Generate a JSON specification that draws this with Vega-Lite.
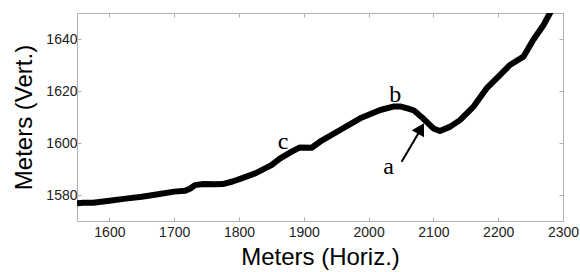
{
  "$schema": "https://vega.github.io/schema/vega-lite/v6.json",
  "autosize": {"type": "none"},
  "padding": {"left": 77, "top": 13, "right": 17, "bottom": 51},
  "width": 486,
  "height": 208,
  "background": "white",
  "config": {
    "view": {"stroke": null},
    "axis": {
      "labelFont": "Liberation Sans",
      "titleFont": "Liberation Sans",
      "labelFontSize": 14,
      "titleFontSize": 24,
      "titleFontWeight": "normal",
      "labelColor": "#222",
      "titleColor": "#000",
      "domainColor": "#b0b0b0",
      "tickColor": "#b0b0b0",
      "grid": false,
      "format": "d"
    }
  },
  "datasets": {
    "profile": [
      {"h": 1550, "v": 1576.8}, {"h": 1560, "v": 1577.0}, {"h": 1575, "v": 1577.0},
      {"h": 1600, "v": 1577.8}, {"h": 1625, "v": 1578.6}, {"h": 1650, "v": 1579.3},
      {"h": 1675, "v": 1580.3}, {"h": 1700, "v": 1581.3}, {"h": 1717, "v": 1581.6},
      {"h": 1725, "v": 1582.5}, {"h": 1732, "v": 1583.8}, {"h": 1745, "v": 1584.2},
      {"h": 1763, "v": 1584.1}, {"h": 1775, "v": 1584.2}, {"h": 1790, "v": 1585.2},
      {"h": 1804, "v": 1586.4}, {"h": 1825, "v": 1588.3}, {"h": 1850, "v": 1591.5},
      {"h": 1863, "v": 1594.0}, {"h": 1880, "v": 1596.5}, {"h": 1894, "v": 1598.3},
      {"h": 1912, "v": 1598.2}, {"h": 1925, "v": 1600.5}, {"h": 1956, "v": 1605.0},
      {"h": 1987, "v": 1609.5}, {"h": 2018, "v": 1612.7}, {"h": 2038, "v": 1614.0},
      {"h": 2050, "v": 1614.0}, {"h": 2060, "v": 1613.3}, {"h": 2070, "v": 1612.5},
      {"h": 2084, "v": 1609.5}, {"h": 2100, "v": 1605.6}, {"h": 2110, "v": 1604.6},
      {"h": 2126, "v": 1606.3}, {"h": 2141, "v": 1608.8}, {"h": 2162, "v": 1614.0},
      {"h": 2182, "v": 1621.0}, {"h": 2203, "v": 1626.2}, {"h": 2218, "v": 1630.0},
      {"h": 2239, "v": 1633.2}, {"h": 2254, "v": 1639.6}, {"h": 2270, "v": 1645.4},
      {"h": 2280, "v": 1650.0}, {"h": 2285, "v": 1652.0}
    ],
    "labels": [
      {"h": 2041, "v": 1618.5, "t": "b"},
      {"h": 1868, "v": 1600.4, "t": "c"},
      {"h": 2031, "v": 1590.8, "t": "a"}
    ],
    "arrow": [
      {"h": 2051, "v": 1592.8, "h2": 2078, "v2": 1604.2, "hh": 2080.8, "vh": 1605.6}
    ]
  },
  "layer": [
    {
      "data": {"name": "profile"},
      "mark": {"type": "line", "color": "#000", "strokeWidth": 6, "clip": true, "strokeJoin": "round", "strokeCap": "butt"},
      "encoding": {
        "x": {"field": "h", "type": "quantitative", "scale": {"domain": [1550, 2300], "nice": false, "zero": false},
          "axis": {"title": "Meters (Horiz.)", "values": [1600, 1700, 1800, 1900, 2000, 2100, 2200, 2300], "tickSize": -4, "labelPadding": 8, "titlePadding": 6, "labelFlush": false}},
        "y": {"field": "v", "type": "quantitative", "scale": {"domain": [1570, 1650], "nice": false, "zero": false},
          "axis": {"title": "Meters (Vert.)", "values": [1580, 1600, 1620, 1640], "tickSize": -4, "labelPadding": 4, "titlePadding": 9, "labelFlush": false}}
      }
    },
    {
      "data": {"name": "arrow"},
      "mark": {"type": "rule", "color": "#000", "strokeWidth": 2},
      "encoding": {
        "x": {"field": "h", "type": "quantitative", "axis": {"orient": "top", "title": null, "labels": false, "values": [1600, 1700, 1800, 1900, 2000, 2100, 2200, 2300], "tickSize": -4}},
        "y": {"field": "v", "type": "quantitative", "axis": {"orient": "right", "title": null, "labels": false, "values": [1580, 1600, 1620, 1640], "tickSize": -4}},
        "x2": {"field": "h2"},
        "y2": {"field": "v2"}
      }
    },
    {
      "data": {"name": "arrow"},
      "mark": {"type": "point", "shape": "triangle-up", "filled": true, "color": "#000", "size": 200, "angle": 30, "opacity": 1},
      "encoding": {
        "x": {"field": "hh", "type": "quantitative", "axis": null},
        "y": {"field": "vh", "type": "quantitative", "axis": null}
      }
    },
    {
      "data": {"name": "labels"},
      "mark": {"type": "text", "font": "Liberation Serif", "fontSize": 24, "color": "#000", "baseline": "middle", "align": "center"},
      "encoding": {
        "x": {"field": "h", "type": "quantitative", "axis": null},
        "y": {"field": "v", "type": "quantitative", "axis": null},
        "text": {"field": "t"}
      }
    }
  ],
  "resolve": {"axis": {"x": "independent", "y": "independent"}}
}
